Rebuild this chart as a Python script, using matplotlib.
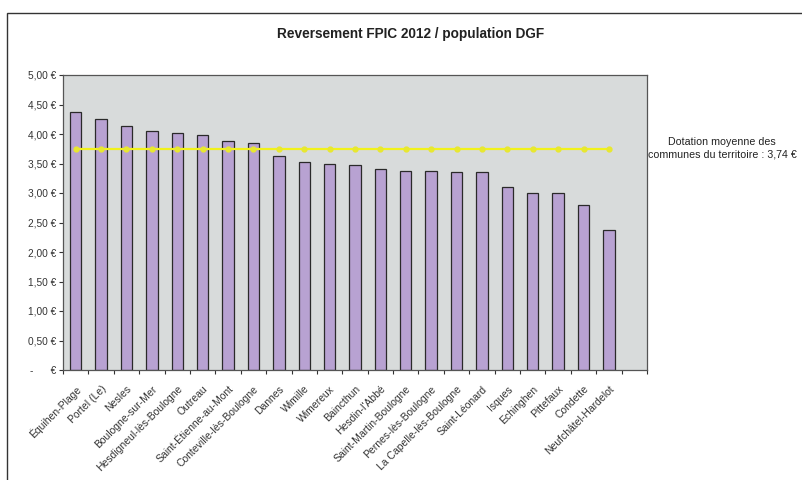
import numpy as np
import matplotlib
matplotlib.use("Agg")
import matplotlib.pyplot as plt
from matplotlib.patches import Rectangle
from matplotlib.ticker import FuncFormatter, FixedLocator

plt.rcParams['font.family'] = ['Liberation Sans', 'DejaVu Sans']

# ================= DATA =================

communes = [
    "Équihen-Plage", "Portel (Le)", "Nesles", "Boulogne-sur-Mer",
    "Hesdigneul-lès-Boulogne", "Outreau", "Saint-Étienne-au-Mont",
    "Conteville-lès-Boulogne", "Dannes", "Wimille", "Wimereux", "Baincthun",
    "Hesdin-l'Abbé", "Saint-Martin-Boulogne", "Pernes-lès-Boulogne",
    "La Capelle-lès-Boulogne", "Saint-Léonard", "Isques", "Echinghen",
    "Pittefaux", "Condette", "Neufchâtel-Hardelot",
]
reversement = [4.37, 4.25, 4.13, 4.05, 4.02, 3.98, 3.88, 3.84, 3.63, 3.53,
               3.50, 3.48, 3.41, 3.37, 3.37, 3.36, 3.35, 3.11, 3.00, 3.00,
               2.80, 2.38]
moyenne = 3.74
title = "Reversement FPIC 2012 / population DGF"
note = "Dotation moyenne des\ncommunes du territoire : 3,74 €"

# ================= PLOT =================

fig = plt.figure(figsize=(8.02, 4.8), dpi=100)
fig.patch.set_facecolor("white")

# outer chart frame (cut by image right/bottom edges)
fig.patches.append(Rectangle((7 / 802, -0.2), 1.2, 1.2 - 13 / 480,
                             transform=fig.transFigure, fill=False,
                             edgecolor="#333333", linewidth=1.0))

ax = fig.add_axes([63 / 802, 1 - 370 / 480, (647 - 63) / 802, (370 - 75) / 480])
ax.set_facecolor("#d8dbdb")

x = np.arange(len(communes))
ax.bar(x, reversement, width=0.45, color="#b8a2d2", edgecolor="#2a2a2a",
       linewidth=0.9, zorder=2)
ax.plot(x, [moyenne] * len(x), color="#f2f21a", linewidth=1.6, marker="o",
        markersize=3.5, markerfacecolor="#e8e830", markeredgecolor="#e8e830",
        zorder=3)

ax.set_xlim(-0.5, len(communes) + 0.5)
ax.set_ylim(0, 5)
ax.set_yticks(np.arange(0, 5.01, 0.5))


def euro(v, pos):
    if abs(v) < 1e-9:
        return "-      €"
    return f"{v:.2f} €".replace(".", ",")


ax.yaxis.set_major_formatter(FuncFormatter(euro))
ax.tick_params(axis="y", labelsize=7.3, colors="#333333", length=3, width=0.8,
               direction="out", pad=2)

ax.set_xticks(x)
ax.set_xticklabels(communes, rotation=45, ha="right", rotation_mode="anchor",
                   fontsize=7.5, color="#333333")
ax.tick_params(axis="x", which="major", length=0, pad=10)
ax.xaxis.set_minor_locator(FixedLocator(np.arange(-0.5, len(communes) + 1, 1)))
ax.tick_params(axis="x", which="minor", length=3, width=0.8, color="#333333",
               direction="out")

for side in ["left", "bottom", "top", "right"]:
    ax.spines[side].set_color("#555555")
    ax.spines[side].set_linewidth(0.9)

fig.text(411 / 802, 1 - 34 / 480, title, ha="center", va="center",
         fontsize=9.8, fontweight="bold", color="#222222")
fig.text(722 / 802, 1 - 148 / 480, note, ha="center", va="center",
         fontsize=7.7, color="#222222", linespacing=1.35)

fig.savefig("out.png", dpi=100, facecolor="white")
